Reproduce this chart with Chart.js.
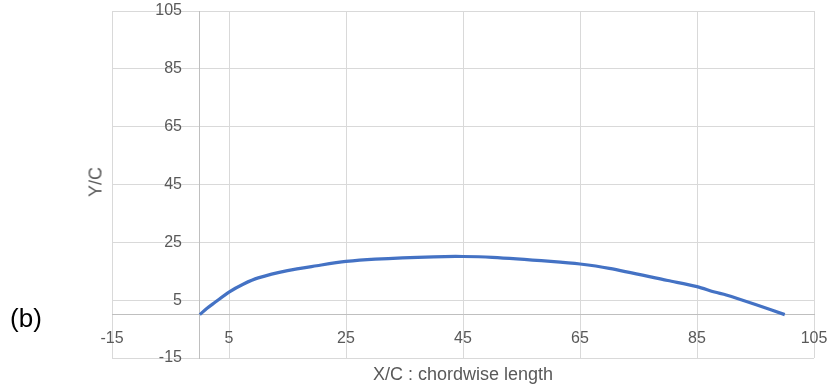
<!DOCTYPE html>
<html>
<head>
<meta charset="utf-8">
<script src="https://cdn.jsdelivr.net/npm/chart.js@4/dist/chart.umd.min.js"></script>
<style>
  html, body { margin: 0; padding: 0; background: #fff; }
  #wrap { position: relative; width: 827px; height: 387px; }
  canvas { position: absolute; left: 0; top: 0; }
  .lbl { position: absolute; font-family: "Liberation Sans", Arial, sans-serif; color: #595959; white-space: nowrap; }
</style>
</head>
<body>
<div id="wrap">
  <canvas id="c" width="827" height="387"></canvas>
  <div class="lbl" id="ytitle" style="left:96px; top:182px; font-size:18px; transform: translate(-50%,-50%) rotate(-90deg);">Y/C</div>
  <div class="lbl" id="xtitle" style="left:463px; top:374px; font-size:18px; transform: translate(-50%,-50%);">X/C : chordwise length</div>
  <div class="lbl" id="panel" style="left:26px; top:318px; font-size:26px; color:#000; transform: translate(-50%,-50%);">(b)</div>
</div>
<script>
// Data
const xValues = [0, 1.25, 2.5, 5, 7.5, 10, 15, 20, 25, 30, 40, 45, 50, 60, 65, 70, 80, 85, 88, 90, 95, 100];
const yValues = [0, 2.2, 4.1, 7.8, 10.6, 12.7, 15.2, 16.9, 18.4, 19.2, 20.0, 20.1, 19.8, 18.4, 17.5, 16.0, 11.8, 9.7, 7.8, 6.8, 3.5, 0];
const xTicks = [-15, 5, 25, 45, 65, 85, 105];
const yTicks = [-15, 5, 25, 45, 65, 85, 105];

const points = xValues.map((x, i) => ({ x: x, y: yValues[i] }));

const tickFont = { family: '"Liberation Sans", Arial, sans-serif', size: 16 };
const noPad = (s) => { s.paddingTop = 0; s.paddingBottom = 0; s.paddingLeft = 0; s.paddingRight = 0; };

new Chart(document.getElementById('c'), {
  type: 'line',
  data: {
    datasets: [{
      data: points,
      borderColor: '#4472C4',
      backgroundColor: '#4472C4',
      borderWidth: 3.2,
      pointRadius: 0,
      tension: 0.3,
      fill: false
    }]
  },
  options: {
    responsive: false,
    animation: false,
    layout: { padding: { left: 112, top: 11, right: 13, bottom: 29 } },
    plugins: { legend: { display: false }, tooltip: { enabled: false } },
    scales: {
      x: {
        type: 'linear',
        min: -15, max: 105,
        position: { y: 0 },
        afterBuildTicks: (s) => { s.ticks = xTicks.map(v => ({ value: v })); },
        afterFit: noPad,
        ticks: { color: '#595959', font: tickFont, padding: 14, maxRotation: 0, autoSkip: false },
        grid: { color: '#d9d9d9', lineWidth: 1, drawTicks: false },
        border: { display: true, color: '#bfbfbf', width: 1 }
      },
      y: {
        type: 'linear',
        min: -15, max: 105,
        position: { x: 0 },
        afterBuildTicks: (s) => { s.ticks = yTicks.map(v => ({ value: v })); },
        afterFit: noPad,
        ticks: { color: '#595959', font: tickFont, autoSkip: false, callback: (v) => v + '    ' },
        grid: { color: '#d9d9d9', lineWidth: 1, drawTicks: false },
        border: { display: true, color: '#bfbfbf', width: 1 }
      }
    }
  }
});
</script>
</body>
</html>
